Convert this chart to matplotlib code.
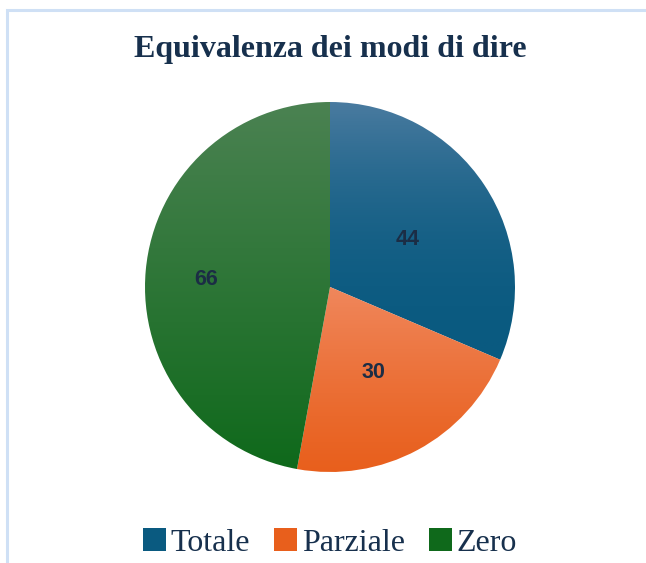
import numpy as np
import matplotlib.pyplot as plt
from matplotlib.patches import Rectangle
from matplotlib.colors import LinearSegmentedColormap

# data
labels = ["Totale", "Parziale", "Zero"]
values = [44, 30, 66]
top_colors = ["#4a7ba0", "#f0875c", "#4b8252"]
bottom_colors = ["#0a5a80", "#e85f1c", "#0f691b"]
label_dist = [0.5, 0.5, 0.67]
grad_gamma = [2.2, 1.2, 1.0]

fig = plt.figure(figsize=(6.46, 5.63), dpi=100)
fig.patches.append(Rectangle((6.5 / 646, -0.1), 1.2, (1 - 9.5 / 563) + 0.1,
                             transform=fig.transFigure, fill=False,
                             edgecolor="#cfe0f5", linewidth=2.2))

ax = fig.add_axes([(330 - 185) / 646, (563 - 472) / 563, 370 / 646, 370 / 563])
wedges, _ = ax.pie(values, startangle=90, counterclock=False, radius=1,
                   wedgeprops=dict(linewidth=0.8, edgecolor="white"))

# vertical gradient for each wedge, over the wedge's own height
grad = np.linspace(0, 1, 256).reshape(-1, 1)
for w, c0, c1, g in zip(wedges, top_colors, bottom_colors, grad_gamma):
    verts = w.get_path().vertices
    y0, y1 = verts[:, 1].min(), verts[:, 1].max()
    cmap = LinearSegmentedColormap.from_list("g", [c1, c0])
    im = ax.imshow(grad ** g, cmap=cmap, extent=(-1, 1, y0, y1), origin="lower",
                   aspect="auto", zorder=w.get_zorder() + 0.1)
    im.set_clip_path(w)
    w.set_facecolor("none")
ax.set_xlim(-1, 1)
ax.set_ylim(-1, 1)
ax.set_aspect("auto")

# labels
total = sum(values)
start = 90
for v, d in zip(values, label_dist):
    mid = np.deg2rad(start - v / total * 180)
    start -= v / total * 360
    ax.text(d * np.cos(mid), d * np.sin(mid) - 0.02, str(v), ha="center", va="center",
            fontsize=15.5, fontweight="bold", family="Liberation Sans",
            color="#1b2d45", zorder=10)

fig.text(330 / 646, 1 - 50 / 563, "Equivalenza dei modi di dire", ha="center",
         va="center", fontsize=23, fontweight="bold", family="Liberation Serif",
         color="#17304d")

handles = [Rectangle((0, 0), 1, 1, facecolor=c) for c in bottom_colors]
fig.legend(handles, labels, loc="center", bbox_to_anchor=(330 / 646, 1 - 543 / 563),
           ncol=3, frameon=False, prop=dict(family="Liberation Serif", size=23),
           handlelength=0.72, handleheight=0.72, handletextpad=0.15,
           columnspacing=0.75, labelcolor="#17304d")

fig.savefig("out.png", dpi=100)
